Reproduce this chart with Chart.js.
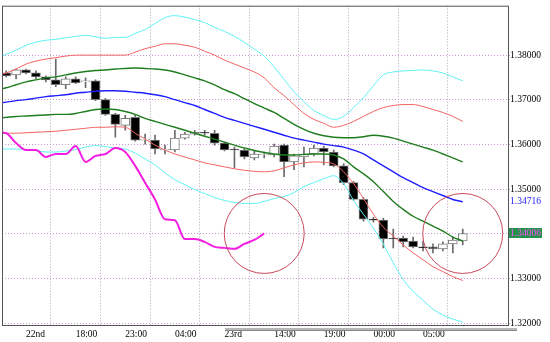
<!DOCTYPE html>
<html><head><meta charset="utf-8">
<script src="https://cdn.jsdelivr.net/npm/chart.js@4.4.1/dist/chart.umd.min.js"></script>
<style>html,body{margin:0;padding:0;background:#fff;}canvas{display:block;}</style>
</head><body>
<canvas id="c" width="550" height="342"></canvas>
<script>
// ---- hourly candles (index 0..46) ----
const opens  = [1.37601,1.37557,1.37668,1.37601,1.37513,1.37447,1.37336,1.37469,1.37402,1.37424,1.37004,1.36672,1.36428,1.36605,1.36096,1.36096,1.35875,1.35875,1.36140,1.36229,1.36273,1.36251,1.36030,1.35897,1.35875,1.35698,1.35764,1.35764,1.35985,1.35609,1.35720,1.35786,1.35919,1.35830,1.35520,1.35144,1.34768,1.34325,1.34303,1.33904,1.33904,1.33838,1.33705,1.33705,1.33661,1.33772,1.33838];
const highs  = [1.37646,1.37690,1.37690,1.37646,1.37535,1.37911,1.37513,1.37513,1.37491,1.37447,1.37026,1.36694,1.36650,1.36650,1.36229,1.36207,1.35985,1.36317,1.36273,1.36317,1.36317,1.36317,1.36052,1.35941,1.35897,1.35852,1.35830,1.36007,1.36007,1.35786,1.35941,1.35985,1.35963,1.35875,1.35565,1.35166,1.34812,1.34369,1.34347,1.34104,1.33949,1.33927,1.33838,1.33772,1.33816,1.33927,1.34104];
const lows   = [1.37513,1.37469,1.37579,1.37469,1.37402,1.37292,1.37247,1.37358,1.37269,1.36982,1.36650,1.36162,1.36317,1.36074,1.36007,1.35786,1.35786,1.35830,1.36118,1.36207,1.36207,1.35985,1.35852,1.35476,1.35675,1.35653,1.35698,1.35720,1.35277,1.35432,1.35498,1.35742,1.35543,1.35498,1.35100,1.34746,1.34281,1.34259,1.33683,1.33683,1.33705,1.33683,1.33617,1.33572,1.33617,1.33572,1.33749];
const closes = [1.37535,1.37668,1.37601,1.37513,1.37447,1.37336,1.37469,1.37380,1.37424,1.37004,1.36672,1.36450,1.36583,1.36096,1.36118,1.35897,1.35897,1.36140,1.36229,1.36273,1.36251,1.36030,1.35875,1.35875,1.35720,1.35786,1.35786,1.35963,1.35609,1.35742,1.35786,1.35919,1.35830,1.35520,1.35144,1.34768,1.34325,1.34303,1.33882,1.33882,1.33816,1.33705,1.33683,1.33661,1.33772,1.33860,1.34006];

// ---- bands, index -1..46 ----
const cyanUp   = [1.37933,1.38022,1.38110,1.38221,1.38288,1.38332,1.38354,1.38387,1.38420,1.38443,1.38409,1.38376,1.38398,1.38398,1.38487,1.38575,1.38708,1.38841,1.38885,1.38852,1.38797,1.38730,1.38620,1.38531,1.38420,1.38288,1.38133,1.37978,1.37734,1.37457,1.37181,1.36959,1.36760,1.36649,1.36561,1.36627,1.36826,1.37048,1.37313,1.37557,1.37623,1.37646,1.37657,1.37668,1.37646,1.37601,1.37513,1.37424];
const redUp    = [1.37535,1.37601,1.37690,1.37800,1.37867,1.37911,1.37944,1.37978,1.38000,1.38000,1.38000,1.38000,1.38000,1.38000,1.38066,1.38144,1.38199,1.38254,1.38254,1.38221,1.38177,1.38088,1.38000,1.37889,1.37800,1.37712,1.37623,1.37491,1.37269,1.37092,1.36893,1.36694,1.36561,1.36472,1.36384,1.36428,1.36516,1.36627,1.36738,1.36826,1.36871,1.36893,1.36893,1.36848,1.36782,1.36716,1.36627,1.36516];
const greenUp  = [1.37225,1.37269,1.37336,1.37402,1.37446,1.37491,1.37513,1.37557,1.37601,1.37634,1.37657,1.37668,1.37690,1.37701,1.37712,1.37701,1.37690,1.37668,1.37623,1.37557,1.37491,1.37424,1.37336,1.37225,1.37136,1.37026,1.36915,1.36815,1.36716,1.36583,1.36450,1.36339,1.36251,1.36195,1.36162,1.36151,1.36151,1.36173,1.36206,1.36184,1.36140,1.36074,1.36007,1.35941,1.35874,1.35786,1.35697,1.35609];
const midLine  = [1.36915,1.36948,1.36981,1.37003,1.37037,1.37070,1.37092,1.37114,1.37147,1.37169,1.37192,1.37203,1.37203,1.37192,1.37169,1.37147,1.37114,1.37070,1.37003,1.36937,1.36871,1.36782,1.36694,1.36605,1.36538,1.36472,1.36406,1.36339,1.36273,1.36206,1.36140,1.36096,1.36051,1.36007,1.35974,1.35941,1.35874,1.35786,1.35653,1.35520,1.35387,1.35254,1.35144,1.35033,1.34944,1.34856,1.34767,1.34716];
const greenLow = [1.36583,1.36605,1.36627,1.36638,1.36649,1.36660,1.36672,1.36672,1.36694,1.36738,1.36782,1.36793,1.36782,1.36738,1.36672,1.36583,1.36516,1.36450,1.36384,1.36317,1.36251,1.36184,1.36118,1.36051,1.35985,1.35919,1.35863,1.35819,1.35786,1.35764,1.35764,1.35775,1.35786,1.35786,1.35764,1.35675,1.35498,1.35343,1.35166,1.34944,1.34723,1.34546,1.34391,1.34280,1.34170,1.34059,1.33926,1.33837];
const redLow   = [1.36251,1.36251,1.36251,1.36262,1.36273,1.36284,1.36295,1.36317,1.36339,1.36361,1.36384,1.36384,1.36395,1.36384,1.36251,1.36118,1.35985,1.35874,1.35786,1.35719,1.35653,1.35587,1.35542,1.35498,1.35454,1.35420,1.35398,1.35387,1.35409,1.35476,1.35542,1.35587,1.35609,1.35598,1.35564,1.35387,1.35122,1.34789,1.34435,1.34147,1.33948,1.33749,1.33572,1.33417,1.33262,1.33151,1.33040,1.32952];
const cyanLow  = [1.35897,1.35897,1.35897,1.35885,1.35863,1.35830,1.35830,1.35852,1.35885,1.35941,1.35974,1.35952,1.35919,1.35897,1.35808,1.35675,1.35542,1.35365,1.35210,1.35099,1.34989,1.34900,1.34812,1.34745,1.34701,1.34679,1.34679,1.34723,1.34789,1.34834,1.34922,1.35055,1.35144,1.35232,1.35299,1.35122,1.34745,1.34435,1.34125,1.33771,1.33350,1.32974,1.32708,1.32509,1.32310,1.32177,1.32088,1.32022];

const laggingShift = 20;               // lagging span drawn 20 bars back
const xTickIndex  = [2, 7, 12, 17, 22, 27, 32, 37, 42];
const xTickLabels = ['22nd','18:00','23:00','04:00','23rd','14:00','19:00','00:00','05:00'];
const yTickValues = [1.32, 1.33, 1.34, 1.35, 1.36, 1.37, 1.38];

const candleX = closes.map((_, i) => i);
const bandX = [-1].concat(candleX);
const series = arr => arr.map((v, k) => ({x: bandX[k], y: v}));
const lastClose = closes[closes.length - 1];
const lastMid = midLine[midLine.length - 1];

const bodies = candleX.map(i => ({x: i, y: [opens[i], closes[i]]}));
const wicks  = candleX.map(i => ({x: i, y: [lows[i], highs[i]]}));
const lagging = candleX.filter(i => i - laggingShift >= -1).map(i => ({x: i - laggingShift, y: closes[i]}));
const circles = [{x: closes.length - 1 - laggingShift, y: lastClose}, {x: closes.length - 1, y: lastClose}];

const FONT = {family: '"Liberation Serif", serif', size: 9.5};

const decor = {
  id: 'decor',
  afterDraw(chart) {
    const {ctx, chartArea: a, scales: {x, y}} = chart;
    ctx.save();
    ctx.strokeStyle = '#555';
    ctx.lineWidth = 1;
    ctx.strokeRect(a.left + 0.5, a.top + 0.5, a.right - a.left, a.bottom - a.top);
    // bottom bar
    const bx = Math.round(x.getPixelForValue(22));
    ctx.fillStyle = '#b8b8b8';
    ctx.fillRect(bx, a.bottom + 3, 517 - bx, 3);
    ctx.fillStyle = '#888';
    ctx.fillRect(bx, a.bottom + 5, 517 - bx, 1);
    // labels
    ctx.font = '9.5px "Liberation Serif", serif';
    ctx.textBaseline = 'middle';
    ctx.textAlign = 'left';
    const ym = y.getPixelForValue(lastMid);
    ctx.fillStyle = '#1a1aff';
    ctx.fillText(lastMid.toFixed(5), a.right + 2, ym);
    const yc = y.getPixelForValue(lastClose);
    ctx.fillStyle = '#24914a';
    ctx.fillRect(a.right + 1, Math.round(yc) - 5, 33, 10);
    ctx.fillStyle = '#ff50ff';
    ctx.fillText(lastClose.toFixed(5), a.right + 2, yc);
    ctx.restore();
  }
};

const line = (data, color, width, order) => ({
  type: 'line', data, borderColor: color, borderWidth: width, pointRadius: 0,
  cubicInterpolationMode: 'monotone', fill: false, order
});

new Chart(document.getElementById('c'), {
  type: 'line',
  data: {
    datasets: [
      {type: 'scatter', data: circles, pointRadius: 40, pointBackgroundColor: 'rgba(0,0,0,0)',
       pointBorderColor: '#c8485a', pointBorderWidth: 1, order: 0},
      line(lagging, '#f21ee0', 2, 1),
      line(series(cyanUp), '#5ff2f4', 1, 2),
      line(series(redUp), '#f46464', 1, 2),
      line(series(greenUp), '#1f7d1f', 1.4, 2),
      line(series(midLine), '#1e1eff', 1.4, 2),
      line(series(greenLow), '#1f7d1f', 1.4, 2),
      line(series(redLow), '#f46464', 1, 2),
      line(series(cyanLow), '#5ff2f4', 1, 2),
      {type: 'bar', data: bodies, grouped: false, barThickness: 9,
       backgroundColor: bodies.map(b => b.y[1] >= b.y[0] ? '#ffffff' : '#000000'),
       borderColor: '#7a7a7a', borderWidth: 1, borderSkipped: false, order: 5},
      {type: 'bar', data: wicks, grouped: false, barThickness: 1,
       backgroundColor: '#6a6a6a', borderWidth: 0, order: 6}
    ]
  },
  options: {
    responsive: false, animation: false, events: [],
    layout: {autoPadding: false, padding: {left: 2, top: 2, right: 0, bottom: 0}},
    plugins: {legend: {display: false}, tooltip: {enabled: false}},
    scales: {
      x: {
        type: 'linear', min: -0.418, max: 50.56, offset: false,
        afterFit: s => { s.height = 17; },
        afterBuildTicks: s => { s.ticks = xTickIndex.map(v => ({value: v})); },
        ticks: {autoSkip: false, maxRotation: 0, align: 'start', padding: 4, color: '#000', font: FONT,
                callback: v => xTickLabels[xTickIndex.indexOf(v)] ?? ''},
        grid: {color: '#b7a2bd', lineWidth: 1, drawTicks: false},
        border: {display: false, dash: [1, 2]}
      },
      y: {
        type: 'linear', position: 'right', min: 1.319557, max: 1.39107,
        afterFit: s => { s.width = 42; },
        afterBuildTicks: s => { s.ticks = yTickValues.map(v => ({value: v})); },
        ticks: {autoSkip: false, padding: 0, color: '#000', font: FONT,
                callback: v => Math.abs(v - lastClose) < 0.002 ? '' : v.toFixed(5)},
        grid: {color: '#c89ad0', lineWidth: 1, drawTicks: true, tickLength: 2},
        border: {display: false, dash: [1, 2]}
      }
    }
  },
  plugins: [decor]
});
</script>
</body></html>
